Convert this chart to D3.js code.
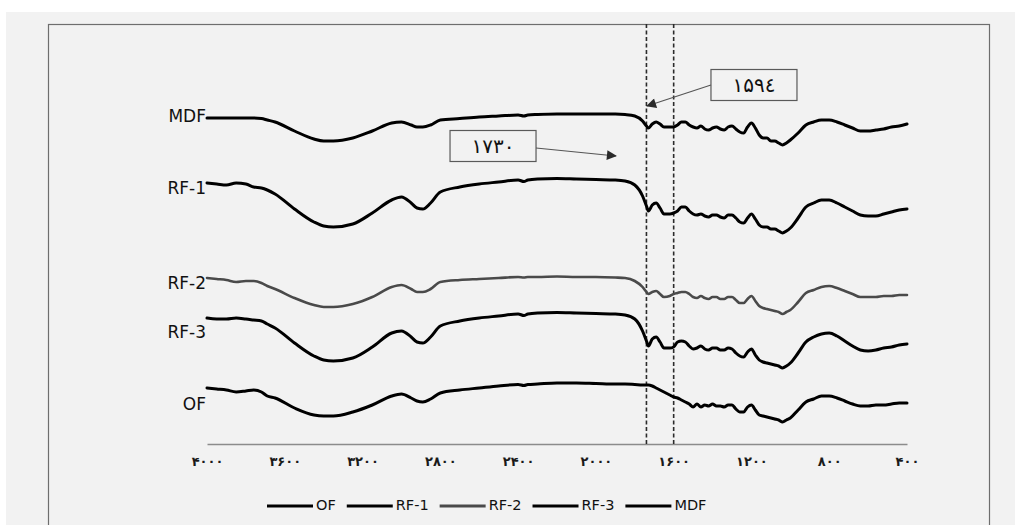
<!DOCTYPE html>
<html><head><meta charset="utf-8">
<script src="https://cdn.jsdelivr.net/npm/d3@7"></script>
<style>
html,body{margin:0;padding:0;background:#fff;}
svg{display:block;}
</style></head>
<body>
<svg id="chart" width="1015" height="525"></svg>
<script>
// ---- data ----
const wavenumbers = [4000,3950,3900,3850,3800,3760,3720,3690,3650,3550,3450,3400,3350,3250,
 3150,3050,3000,2950,2920,2890,2850,2800,2700,2600,
 2500,2400,2370,2350,2300,2200,2100,2000,1900,1850,
 1800,1760,1740,1730,1710,1690,1670,1650,1620,1600,
 1580,1560,1540,1520,1500,1480,1460,1440,1420,1400,
 1380,1360,1340,1320,1300,1280,1260,1240,1220,1200,
 1180,1160,1140,1120,1100,1080,1060,1040,1020,1000,
 960,920,880,840,800,760,720,680,640,600,
 560,520,480,440,400];

const seriesNames = ["OF","RF-1","RF-2","RF-3","MDF"];

const ofValues = [56,55,54,52,53,54,52,48,46,36,29,28,28,32,
 39,48,50,46,43,42,45,51,54,56,
 58,59.5,58.5,59.5,60,61,61,60.5,60,60,
 59.5,59,59,59,58,56,54,52,49,47,
 46,44,42,40,37,40,37,39,38,40,
 38,38,37,39,39,35,32,32,37,39,
 34,29,28,27,26,25,24,22,24,26,
 34,42,45,48,48,46,43,40,38,38,
 39,39,40,41,41];

const rf1Values = [261,260,259,261,260,257,256,254,250,235,222,218,217,220,
 231,244,247,241,236,235,241,252,257,260,
 262,264,262.5,264,265,265.5,265,264.5,264,263,
 259,248,238,233,239,241,236,230,230,231,
 233,237,237,233,230,229,230,228,227,229,
 229,227,226,229,229,226,222,221,226,230,
 225,219,217,217,215,215,213,211,213,216,
 226,237,241,244,244,241,237,233,229,228,
 228,230,232,234,235];

const rf2Values = [166,165,164,162,163,163,161,158,155,146,139,137,137,140,
 147,157,159,155,152,152,155,162,164,165,
 166,167,166.5,167,167,167.5,167,167,166.5,166,
 163,157,152,150,152,153,150,147,148,150,
 151,152,152,150,147,146,148,146,145,147,
 147,145,145,147,147,144,141,141,145,148,
 143,138,136,135,134,133,132,130,132,134,
 142,151,154,157,158,156,153,150,147,147,
 147,148,148,149,149];

const rf3Values = [126,125,125,126,125,124,123,120,116,101,88,84,83,86,
 97,111,113,107,102,101,107,118,123,126,
 128,130,128.5,130,131,131.5,131,130.5,130,129,
 125,113,103,98,105,107,102,96,96,97,
 102,103,102,98,95,96,98,95,94,96,
 96,94,94,96,95,91,88,87,92,95,
 89,84,82,81,80,79,78,76,78,81,
 91,102,107,110,111,108,103,98,94,93,
 94,96,97,99,100];

const mdfValues = [326,326,326,326,326,326,325.5,324,322,313,305,303,303,306,
 313,321,322,319,317,317,319,324,325.5,327,
 328,329,328,329,329.5,330,330,330,330,329.5,
 328,323,318,316,320,322,320,317,317,317,
 319,322,322,319,317,316,318,315,314,316,
 317,315,314,317,318,315,312,311,317,321,
 316,309,306,306,303,303,301,299,301,304,
 311,319,322,324,324,322,319,316,313,313,
 314,315,317,318,320];

const tickValues = [4000,3600,3200,2800,2400,2000,1600,1200,800,400];
const tickLabels = ["۴۰۰۰","۳۶۰۰","۳۲۰۰","۲۸۰۰","۲۴۰۰","۲۰۰۰","۱۶۰۰","۱۲۰۰","۸۰۰","۴۰۰"];

const markerLines = [1740, 1600];
const annotationTexts = ["۱۵۹٤", "۱۷۳۰"];
// annotation anchor points in data units: [box centre wn, box centre value, arrow tip wn, arrow tip value]
const annotationPoints = [[1187, 359, 1737, 338], [2529, 298, 1897, 288]];

// ---- layout / style ----
const W = 1015, H = 525;
const plot = {left: 207, right: 907, top: 24, bottom: 444};
const colors = {"OF":"#000","RF-1":"#000","RF-2":"#4a4a4a","RF-3":"#000","MDF":"#000"};
const widths = {"OF":3,"RF-1":3,"RF-2":2.6,"RF-3":3,"MDF":3};
const labelOffsets = {"OF":17,"RF-1":6,"RF-2":6,"RF-3":15,"MDF":-1};
const FONT = "'DejaVu Sans', sans-serif";

const valuesByName = {"OF":ofValues,"RF-1":rf1Values,"RF-2":rf2Values,"RF-3":rf3Values,"MDF":mdfValues};

const svg = d3.select("#chart");

// backgrounds
svg.append("rect").attr("x",0).attr("y",0).attr("width",W).attr("height",H).attr("fill","#ffffff");
svg.append("rect").attr("x",6).attr("y",12).attr("width",W-6).attr("height",H-12).attr("fill","#f2f2f2");
svg.append("rect").attr("x",48.5).attr("y",24.5).attr("width",941).attr("height",520)
  .attr("fill","none").attr("stroke","#6e6e6e").attr("stroke-width",1.2);

const x = d3.scaleLinear().domain([4000,400]).range([plot.left, plot.right]);
const y = d3.scaleLinear().domain([0,420]).range([plot.bottom, plot.top]);

// axis
const axis = d3.axisBottom(x).tickValues(tickValues)
  .tickFormat((d,i)=>tickLabels[i]).tickSize(0).tickPadding(13);
const gAxis = svg.append("g").attr("transform",`translate(0,${plot.bottom})`).call(axis);
gAxis.select(".domain").attr("stroke","#8c8c8c").attr("stroke-width",1.5);
gAxis.selectAll("text").attr("font-family",FONT).attr("font-size",13)
  .attr("font-weight","bold").attr("letter-spacing","1.5px").attr("fill","#1a1a1a");

// dashed marker lines
svg.selectAll("line.marker").data(markerLines).enter().append("line")
  .attr("class","marker")
  .attr("x1",d=>x(d)).attr("x2",d=>x(d))
  .attr("y1",plot.top).attr("y2",plot.bottom)
  .attr("stroke","#2b2b2b").attr("stroke-width",1.6).attr("stroke-dasharray","4,2.5");

// spectra
const line = d3.line().x((d,i)=>x(wavenumbers[i])).y(d=>y(d)).curve(d3.curveMonotoneX);
const drawOrder = ["OF","RF-3","RF-2","RF-1","MDF"];
drawOrder.forEach(name=>{
  svg.append("path").datum(valuesByName[name])
    .attr("d",line).attr("fill","none")
    .attr("stroke",colors[name]).attr("stroke-width",widths[name])
    .attr("stroke-linejoin","round").attr("stroke-linecap","round");
});

// series labels
seriesNames.forEach(name=>{
  svg.append("text").text(name)
    .attr("x",plot.left-1).attr("y",y(valuesByName[name][0])+labelOffsets[name])
    .attr("text-anchor","end").attr("dominant-baseline","middle")
    .attr("font-family",FONT).attr("font-size",17).attr("fill","#111");
});

// annotations
const defs = svg.append("defs");
defs.append("marker").attr("id","arrow").attr("viewBox","0 0 10 10")
  .attr("refX",9).attr("refY",5).attr("markerWidth",14).attr("markerHeight",10)
  .attr("markerUnits","userSpaceOnUse").attr("orient","auto")
  .append("path").attr("d","M0,0 L10,5 L0,10 z").attr("fill","#2a2a2a");

const boxW = 86, boxH = 31;
annotationPoints.forEach((p,i)=>{
  const cx = x(p[0]), cy = y(p[1]);
  const g = svg.append("g");
  g.append("rect").attr("x",cx-boxW/2).attr("y",cy-boxH/2).attr("width",boxW).attr("height",boxH)
    .attr("fill","#f2f2f2").attr("stroke","#5a5a5a").attr("stroke-width",1.2);
  g.append("text").text(annotationTexts[i]).attr("x",cx).attr("y",cy+1)
    .attr("text-anchor","middle").attr("dominant-baseline","middle")
    .attr("font-family",FONT).attr("font-size",20).attr("letter-spacing","3px").attr("fill","#111");
  const tx = x(p[2]), ty = y(p[3]);
  const sx = tx < cx ? cx-boxW/2 : cx+boxW/2;
  g.append("line").attr("x1",sx).attr("y1",cy+(i===1?2:0)).attr("x2",tx).attr("y2",ty)
    .attr("stroke","#555").attr("stroke-width",1.1).attr("marker-end","url(#arrow)");
});

// legend
const legendY = 506;
let lx = 267;
seriesNames.forEach(name=>{
  svg.append("line").attr("x1",lx).attr("x2",lx+46).attr("y1",legendY).attr("y2",legendY)
    .attr("stroke",colors[name]).attr("stroke-width",3);
  const t = svg.append("text").text(name).attr("x",lx+49).attr("y",legendY)
    .attr("dominant-baseline","middle").attr("font-family",FONT).attr("font-size",14.5).attr("fill","#111");
  lx += 49 + t.node().getComputedTextLength() + 11;
});
</script>
</body></html>
